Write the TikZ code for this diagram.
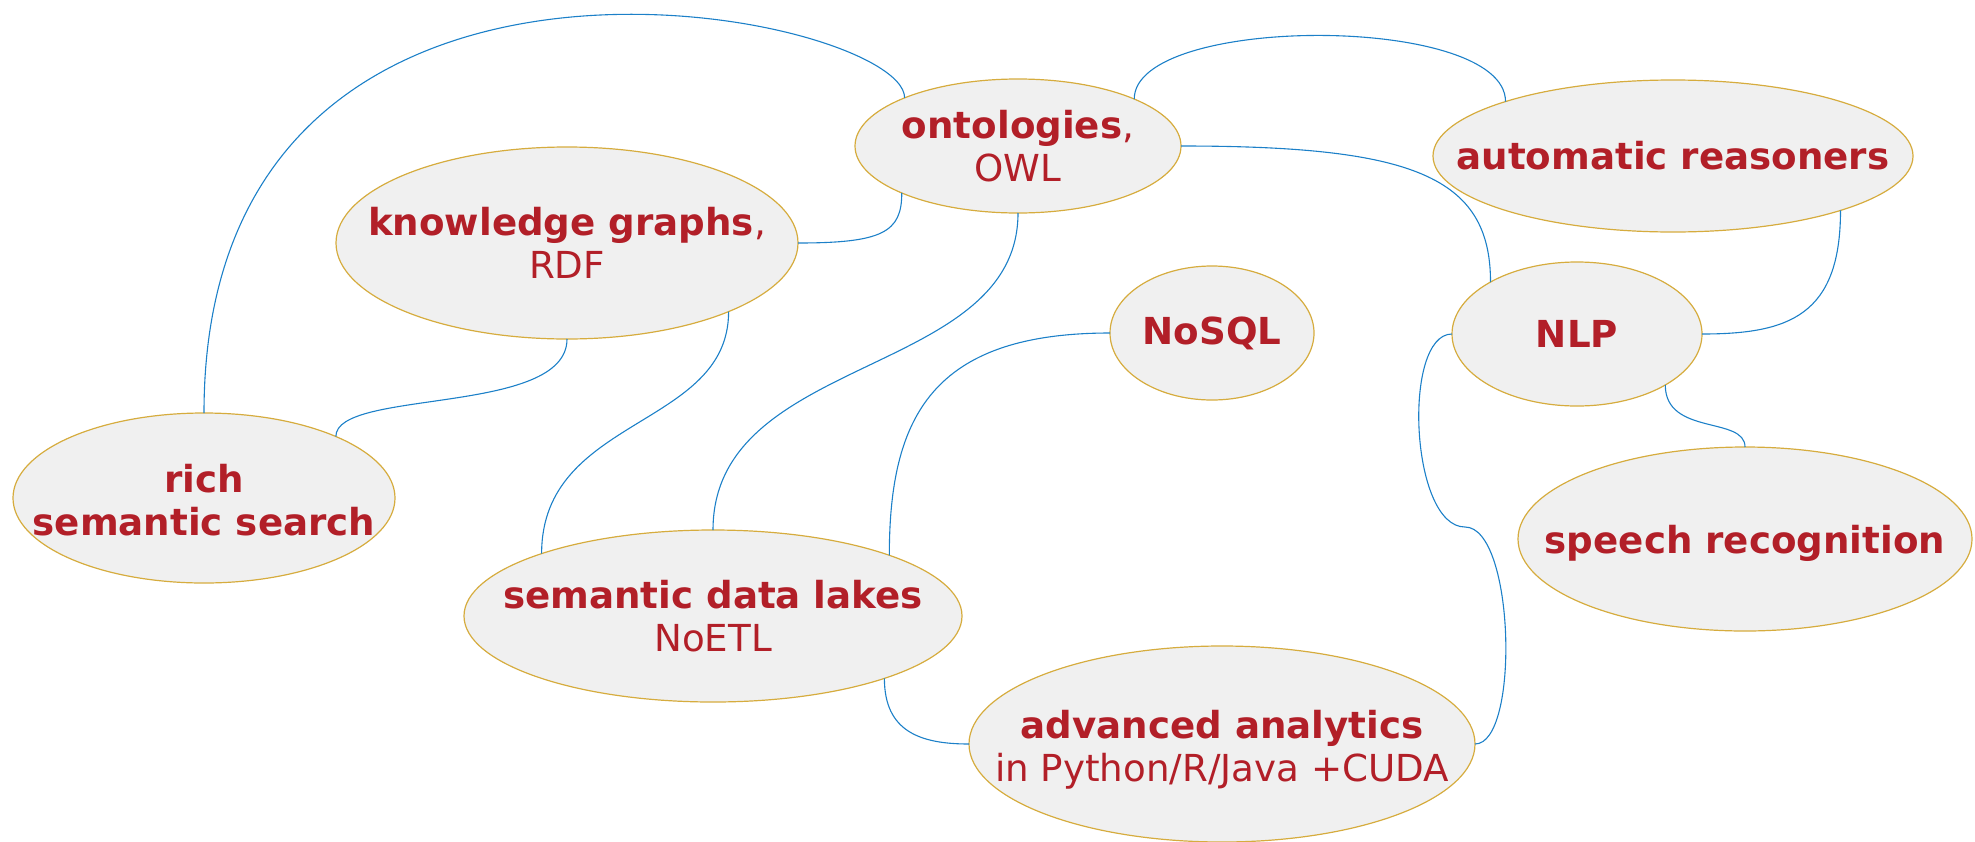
\documentclass[tikz,border=0pt]{standalone}
\usepackage{fontspec}
\setmainfont{DejaVu Sans}
\usetikzlibrary{shapes.geometric}
\definecolor{txtred}{RGB}{178,31,40}
\definecolor{blobfill}{RGB}{240,240,240}
\definecolor{blobline}{RGB}{214,172,62}
\definecolor{linkblue}{RGB}{28,128,200}
\begin{document}
\begin{tikzpicture}[x=0.5pt,y=-0.5pt,
  blob/.style={ellipse,draw=blobline,fill=blobfill,line width=0.6pt,inner sep=0pt,outer sep=0pt},
  lbl/.style={text=txtred,font=\fontsize{18.6}{21.5}\selectfont,align=center,inner sep=0pt},
  link/.style={draw=linkblue,line width=0.55pt}]
\useasboundingbox (0,0) rectangle (1975,841);
% ellipses
\node[blob,minimum width=163pt,minimum height=67pt] (onto) at (1018,146) {};
\node[blob,minimum width=240pt,minimum height=76pt] (ar) at (1673,156) {};
\node[blob,minimum width=231pt,minimum height=96pt] (kg) at (567,243) {};
\node[blob,minimum width=102pt,minimum height=67pt] (nosql) at (1212,333) {};
\node[blob,minimum width=125pt,minimum height=72pt] (nlp) at (1577,334) {};
\node[blob,minimum width=191pt,minimum height=85pt] (rss) at (204,498) {};
\node[blob,minimum width=227pt,minimum height=92pt] (sr) at (1745,539) {};
\node[blob,minimum width=249pt,minimum height=86pt] (sdl) at (713,616) {};
\node[blob,minimum width=253pt,minimum height=98pt] (aa) at (1222,744) {};
% labels
\node[lbl] (onto-t) at (onto.center) {\textbf{ontologies},\\OWL};
\node[lbl] (ar-t) at (ar.center) {\textbf{automatic reasoners}};
\node[lbl] (kg-t) at (kg.center) {\textbf{knowledge graphs},\\RDF};
\node[lbl] (nosql-t) at (nosql.center) {\textbf{NoSQL}};
\node[lbl] (nlp-t) at (nlp.center) {\textbf{NLP}};
\node[lbl] (rss-t) at ([yshift=-1pt]rss.center) {\textbf{rich}\\\textbf{semantic search}};
\node[lbl] (sr-t) at ([yshift=-2pt]sr.center) {\textbf{speech recognition}};
\node[lbl] (sdl-t) at (sdl.center) {\textbf{semantic data lakes}\\NoETL};
\node[lbl] (aa-t) at ([yshift=-3pt]aa.center) {\textbf{advanced analytics}\\in Python/R/Java +CUDA};
% connectors
\draw[link] (rss.north) .. controls +(0,-546) and +(0,-85) .. (onto.157.5);
\draw[link] (onto.22.8) .. controls +(0,-85) and +(0,-88) .. (ar.162);
\draw[link] (onto.east) .. controls +(231,0) and +(0,-106) .. (nlp.149.4);
\draw[link] (kg.east) .. controls +(85,0) and +(0,39) .. (onto.202.5);
\draw[link] (kg.south) .. controls +(0,77) and +(0,-48) .. (rss.25);
\draw[link] (kg.337.5) .. controls +(0,117) and +(0,-138) .. (sdl.160.5);
\draw[link] (onto.south) .. controls +(0,165) and +(0,-177) .. (sdl.north);
\draw[link] (nosql.west) .. controls +(-178,0) and +(0,-138) .. (sdl.19.2);
\draw[link] (sdl.340.8) .. controls +(0,53) and +(-49,0) .. (aa.west);
\coordinate (bend) at (1465,527);
\draw[link] (nlp.west) .. controls +(-50,0) and +(-55,0) .. (bend) .. controls +(50,0) and +(45,0) .. (aa.east);
\draw[link] (ar.342.4) .. controls +(0,105) and +(87,0) .. (nlp.east);
\draw[link] (nlp.330.4) .. controls +(0,51) and +(0,-31) .. (sr.north);
\end{tikzpicture}
\end{document}
